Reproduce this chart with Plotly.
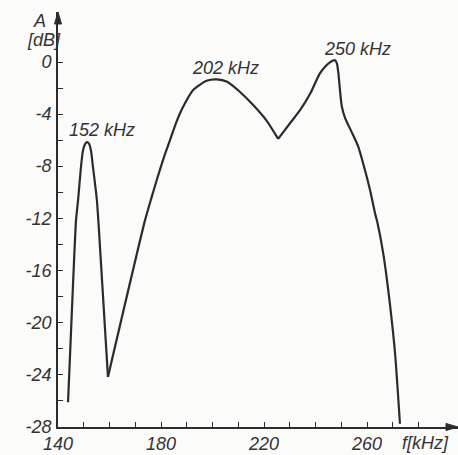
import plotly.graph_objects as go

# Frequency response
freq_khz = [143.9, 145.4, 147.0, 147.8, 148.9, 149.7, 150.5, 151.3, 152.1, 152.8, 153.6, 155.1, 155.9,
            159.4, 173.8, 176.2, 178.3, 181.0, 183.5, 186.0, 188.7, 192.5, 197.7, 201.6, 205.5, 210.7,
            215.8, 221.0, 225.5, 230.1, 234.0, 238.0, 241.7, 244.0, 245.6, 246.8, 247.6, 248.3,
            248.9, 249.5, 250.2, 251.5, 254.1, 256.6, 259.2, 261.2, 263.1, 264.0, 266.3, 268.9,
            270.9, 272.8]
level_db = [-26.15, -19.1, -12.15, -10.6, -8.1, -6.8, -6.3, -6.15, -6.3, -6.8, -8.1, -10.6, -12.9,
            -24.2, -12.15, -10.5, -9.1, -7.4, -6.0, -4.6, -3.4, -2.15, -1.44, -1.33, -1.5, -2.3,
            -3.3, -4.5, -5.9, -4.7, -3.7, -2.4, -0.87, -0.3, -0.02, 0.12, 0.15, -0.1,
            -0.87, -2.15, -3.4, -4.3, -5.4, -6.5, -8.3, -9.85, -11.6, -12.3, -14.7, -18.6,
            -22.4, -27.8]
# indices of the sharp corners of the curve (minimum at 159 kHz, valley at 225 kHz)
corner_idx = [0, 13, 28, len(freq_khz) - 1]

peak_labels = ["152 kHz", "202 kHz", "250 kHz"]
peak_label_f = [157.1, 204.9, 256.3]
peak_label_db = [-5.25, -0.42, 1.0]

x_tick_vals = list(range(140, 290, 10))
x_tick_text = ["140", "", "", "", "180", "", "", "", "220", "", "", "", "260", "", ""]
y_tick_vals = list(range(-28, 1, 2))
y_tick_text = ["-28", "", "-24", "", "-20", "", "-16", "", "-12", "", "-8", "", "-4", "", "0"]

W, H = 458, 455
ML, MR, MT, MB = 58, 0, 12, 28
X_RANGE = [140, 140 + (W - ML - MR) / 2.575]
Y_RANGE = [-28.05, 3.85]
INK = "#2b2b2b"
FONT = dict(family="Liberation Sans", size=18, color="#333333", style="italic")

fig = go.Figure()
for a, b in zip(corner_idx[:-1], corner_idx[1:]):
    fig.add_trace(go.Scatter(x=freq_khz[a:b + 1], y=level_db[a:b + 1], mode="lines",
                             line=dict(color=INK, width=2.2, shape="spline", smoothing=0.6),
                             hoverinfo="skip"))

for t, f, d in zip(peak_labels, peak_label_f, peak_label_db):
    fig.add_annotation(x=f, y=d, text=t, showarrow=False, font=FONT,
                       xanchor="center", yanchor="middle")

pw, ph = W - ML - MR, H - MT - MB
# axis arrowheads (paper coords)
ah_len, ah_half = 12, 3.5
fig.add_shape(type="path", xref="paper", yref="paper",
              path=f"M 1,0 L {1-ah_len/pw},{ah_half/ph} L {1-ah_len/pw},{-ah_half/ph} Z",
              fillcolor=INK, line=dict(color=INK, width=1))
fig.add_shape(type="path", xref="paper", yref="paper",
              path=f"M 0,1 L {ah_half/pw},{1-ah_len/ph} L {-ah_half/pw},{1-ah_len/ph} Z",
              fillcolor=INK, line=dict(color=INK, width=1))

# axis titles
fig.add_annotation(xref="paper", yref="paper", x=-19/pw, y=1 - 9/ph, text="A",
                   showarrow=False, font=FONT, xanchor="center", yanchor="middle")
fig.add_annotation(xref="paper", yref="paper", x=-14/pw, y=1 - 28/ph, text="[dB]",
                   showarrow=False, font=FONT, xanchor="center", yanchor="middle")
fig.add_annotation(xref="paper", yref="paper", x=(425 - ML)/pw, y=-16/ph, text="f[kHz]",
                   showarrow=False, font=FONT, xanchor="center", yanchor="middle")

fig.update_xaxes(range=X_RANGE, showline=True, linecolor=INK, linewidth=1.6,
                 tickmode="array", tickvals=x_tick_vals, ticktext=x_tick_text,
                 ticks="inside", ticklen=5, tickwidth=1.3, tickcolor=INK,
                 showgrid=False, zeroline=False, tickfont=FONT, automargin=False)
fig.update_yaxes(range=Y_RANGE, showline=True, linecolor=INK, linewidth=1.6,
                 tickmode="array", tickvals=y_tick_vals, ticktext=y_tick_text,
                 ticks="inside", ticklen=5, tickwidth=1.3, tickcolor=INK,
                 showgrid=False, zeroline=False, tickfont=FONT, ticklabelstandoff=1,
                 automargin=False)
fig.update_layout(width=W, height=H, margin=dict(l=ML, r=MR, t=MT, b=MB),
                  paper_bgcolor="#fbfbfa", plot_bgcolor="#fbfbfa", showlegend=False)

fig.write_html("out.html", config={"displayModeBar": False},
               post_script="document.body.style.margin='0';")
